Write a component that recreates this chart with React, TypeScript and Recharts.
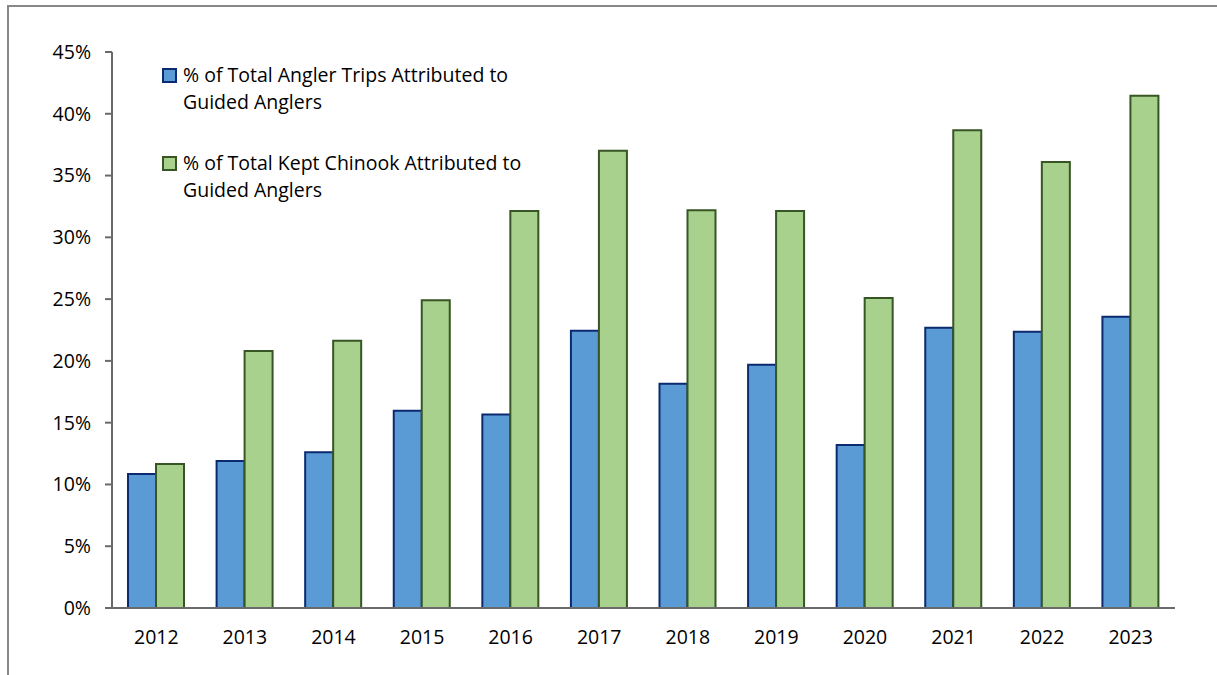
import React from 'react';
import { BarChart, Bar, XAxis, YAxis, Legend } from 'recharts';

const years = ['2012', '2013', '2014', '2015', '2016', '2017', '2018', '2019', '2020', '2021', '2022', '2023'];
const tripShare = [0.1084, 0.119, 0.126, 0.1596, 0.1567, 0.2243, 0.1815, 0.1968, 0.132, 0.2268, 0.2235, 0.2357];
const chinookShare = [0.1165, 0.208, 0.2162, 0.249, 0.3214, 0.37, 0.322, 0.3214, 0.251, 0.3867, 0.361, 0.4145];
const yTicks = [0, 0.05, 0.1, 0.15, 0.2, 0.25, 0.3, 0.35, 0.4, 0.45];

const tripName = '% of Total Angler Trips Attributed to Guided Anglers';
const chinookName = '% of Total Kept Chinook Attributed to Guided Anglers';
const tripLines = ['% of Total Angler Trips Attributed to', 'Guided Anglers'];
const chinookLines = ['% of Total Kept Chinook Attributed to', 'Guided Anglers'];

const data = years.map((year, i) => ({
  year,
  trips: tripShare[i],
  chinook: chinookShare[i],
}));

const FONT = '"Open Sans", "Liberation Sans", sans-serif';
const FS = 19.5;
const AXIS = '#6a6a6a';

const legendItems = [
  { lines: tripLines, fill: '#5B9BD5', stroke: '#0B2A6F' },
  { lines: chinookLines, fill: '#A9D18E', stroke: '#375623' },
];

// legend drawn as two wrapped entries, like the Excel original
const renderLegend = () => (
  <div style={{ fontFamily: FONT, fontSize: FS, color: '#000', lineHeight: '27px', textAlign: 'left' }}>
    {legendItems.map((item, i) => (
      <div key={i} style={{ display: 'flex', alignItems: 'flex-start', marginBottom: i === 0 ? 34 : 0 }}>
        <span
          style={{
            display: 'inline-block',
            flex: 'none',
            width: 11,
            height: 11,
            marginTop: 7,
            marginRight: 6,
            background: item.fill,
            border: `2px solid ${item.stroke}`,
          }}
        />
        <div style={{ whiteSpace: 'nowrap' }}>
          {item.lines.map((line, j) => (
            <div key={j}>{line}</div>
          ))}
        </div>
      </div>
    ))}
  </div>
);

export default function App() {
  return (
    <div style={{ position: 'absolute', left: 0, top: 0, width: 1217, height: 675, background: '#fff', overflow: 'hidden' }}>
      <div
        style={{
          position: 'absolute',
          left: 7,
          top: 5,
          width: 1230,
          height: 690,
          borderTop: '2px solid #878787',
          borderLeft: '2px solid #878787',
        }}
      />
      <BarChart
        width={1217}
        height={675}
        data={data}
        margin={{ top: 52, right: 42, left: 0, bottom: 37 }}
        barGap={0}
        style={{ position: 'absolute', left: 0, top: 0 }}
      >
        <XAxis
          dataKey="year"
          tickLine={false}
          tickSize={0}
          tickMargin={22}
          height={30}
          axisLine={{ stroke: AXIS, strokeWidth: 2 }}
          tick={{ fill: '#000', fontSize: FS, fontFamily: FONT }}
        />
        <YAxis
          width={112}
          domain={[0, 0.45]}
          ticks={yTicks}
          interval={0}
          tickFormatter={(v: number) => `${Math.round(v * 100)}%`}
          tickSize={7}
          tickMargin={14}
          axisLine={{ stroke: AXIS, strokeWidth: 2 }}
          tickLine={{ stroke: AXIS, strokeWidth: 2 }}
          tick={{ fill: '#000', fontSize: FS, fontFamily: FONT }}
        />
        <Legend
          content={renderLegend}
          layout="vertical"
          verticalAlign="middle"
          align="center"
          wrapperStyle={{ position: 'absolute', left: 162, top: 61, width: 420 }}
        />
        <Bar dataKey="trips" name={tripName} fill="#5B9BD5" stroke="#0B2A6F" strokeWidth={2} barSize={28} isAnimationActive={false} />
        <Bar dataKey="chinook" name={chinookName} fill="#A9D18E" stroke="#375623" strokeWidth={2} barSize={28} isAnimationActive={false} />
      </BarChart>
    </div>
  );
}
